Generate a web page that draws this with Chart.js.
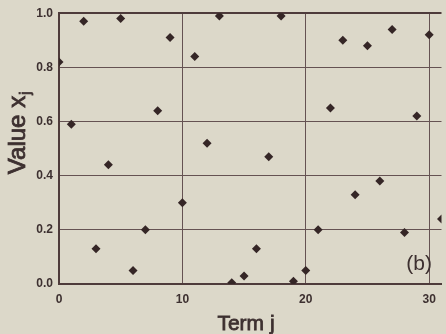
<!DOCTYPE html>
<html>
<head>
<meta charset="utf-8">
<script src="https://cdn.jsdelivr.net/npm/chart.js@4/dist/chart.umd.min.js"></script>
<style>
  body { margin: 0; background: #dcd8c9; }
  #wrap { width: 446px; height: 334px; }
</style>
</head>
<body>
<div id="wrap"><canvas id="chart" width="446" height="334"></canvas></div>
<script>
// term index j and value x_j
const terms = [0, 1, 2, 3, 4, 5, 6, 7, 8, 9, 10, 11, 12, 13, 14, 15,
  16, 17, 18, 19, 20, 21, 22, 23, 24, 25, 26, 27, 28, 29, 30, 31];
const values = [0.82, 0.59, 0.97, 0.13, 0.44, 0.98, 0.05, 0.20, 0.64, 0.91,
  0.30, 0.84, 0.52, 0.99, 0.005, 0.03, 0.13, 0.47, 0.99, 0.01, 0.05, 0.20,
  0.65, 0.90, 0.33, 0.88, 0.38, 0.94, 0.19, 0.62, 0.92, 0.24];
const xTicks = [0, 10, 20, 30];
const yTicks = [0, 0.2, 0.4, 0.6, 0.8, 1.0];

const ink = "#3d3030";
const gridCol = "#655252";

const points = terms.map((t, i) => ({ x: t, y: values[i] }));

const background = {
  id: "background",
  beforeDraw(chart) {
    const ctx = chart.ctx;
    ctx.save();
    ctx.fillStyle = "#dcd8c9";
    ctx.fillRect(0, 0, chart.width, chart.height);
    ctx.restore();
  }
};

// fill plus a thin stroke, the scan makes the lettering heavy
function heavyText(ctx, s, x, y) {
  ctx.fillText(s, x, y);
  ctx.strokeText(s, x, y);
}

const labels = {
  id: "labels",
  afterDraw(chart) {
    const ctx = chart.ctx;
    const area = chart.chartArea;
    ctx.save();
    ctx.fillStyle = ink;
    ctx.strokeStyle = ink;
    ctx.lineWidth = 0.8;

    // y title with subscript j
    ctx.translate(25, 135);
    ctx.rotate(-Math.PI / 2);
    ctx.font = "24px 'Liberation Sans', Arial, sans-serif";
    ctx.textAlign = "center";
    ctx.textBaseline = "alphabetic";
    const main = "Value x";
    const w = ctx.measureText(main).width;
    heavyText(ctx, main, 0, 0);
    ctx.font = "15px 'Liberation Sans', Arial, sans-serif";
    ctx.textAlign = "left";
    heavyText(ctx, "j", w / 2 + 1, 5);
    ctx.setTransform(1, 0, 0, 1, 0, 0);

    // x title
    ctx.font = "21px 'Liberation Sans', Arial, sans-serif";
    ctx.textAlign = "center";
    heavyText(ctx, "Term j", 246, 330);

    // panel tag
    ctx.font = "21px 'Liberation Sans', Arial, sans-serif";
    ctx.textAlign = "right";
    ctx.fillText("(b)", area.left + 373, area.bottom - 14);
    ctx.restore();
  }
};

new Chart(document.getElementById("chart"), {
  type: "scatter",
  data: {
    datasets: [{
      data: points,
      pointStyle: "rectRot",
      pointRadius: 4.5,
      pointHoverRadius: 4.5,
      backgroundColor: "#352626",
      borderColor: "#352626",
      borderWidth: 0
    }]
  },
  options: {
    responsive: false,
    animation: false,
    layout: { padding: { top: 12, right: 0, left: 0, bottom: 0 } },
    plugins: { legend: { display: false }, tooltip: { enabled: false } },
    scales: {
      x: {
        type: "linear",
        min: 0,
        max: 31,
        afterBuildTicks: (scale) => {
          scale.ticks = xTicks.map(v => ({ value: v }));
        },
        afterFit: (scale) => { scale.height = 50; },
        ticks: {
          color: ink,
          padding: 8,
          maxRotation: 0,
          font: { family: "'Liberation Sans', Arial, sans-serif", size: 12, weight: "bold" }
        },
        grid: { color: gridCol, lineWidth: 1, drawTicks: false },
        border: { color: "#4e3b3b", width: 2 }
      },
      y: {
        min: 0,
        max: 1,
        afterBuildTicks: (scale) => {
          scale.ticks = yTicks.map(v => ({ value: v }));
        },
        afterFit: (scale) => { scale.width = 59; },
        ticks: {
          color: ink,
          padding: 6,
          callback: (v) => Number(v).toFixed(1),
          font: { family: "'Liberation Sans', Arial, sans-serif", size: 12, weight: "bold" }
        },
        grid: {
          color: (c) => c.tick && c.tick.value === 1 ? "#4e3b3b" : gridCol,
          lineWidth: (c) => c.tick && c.tick.value === 1 ? 2 : 1,
          drawTicks: false
        },
        border: { color: "#4e3b3b", width: 2 }
      }
    }
  },
  plugins: [background, labels]
});
</script>
</body>
</html>
